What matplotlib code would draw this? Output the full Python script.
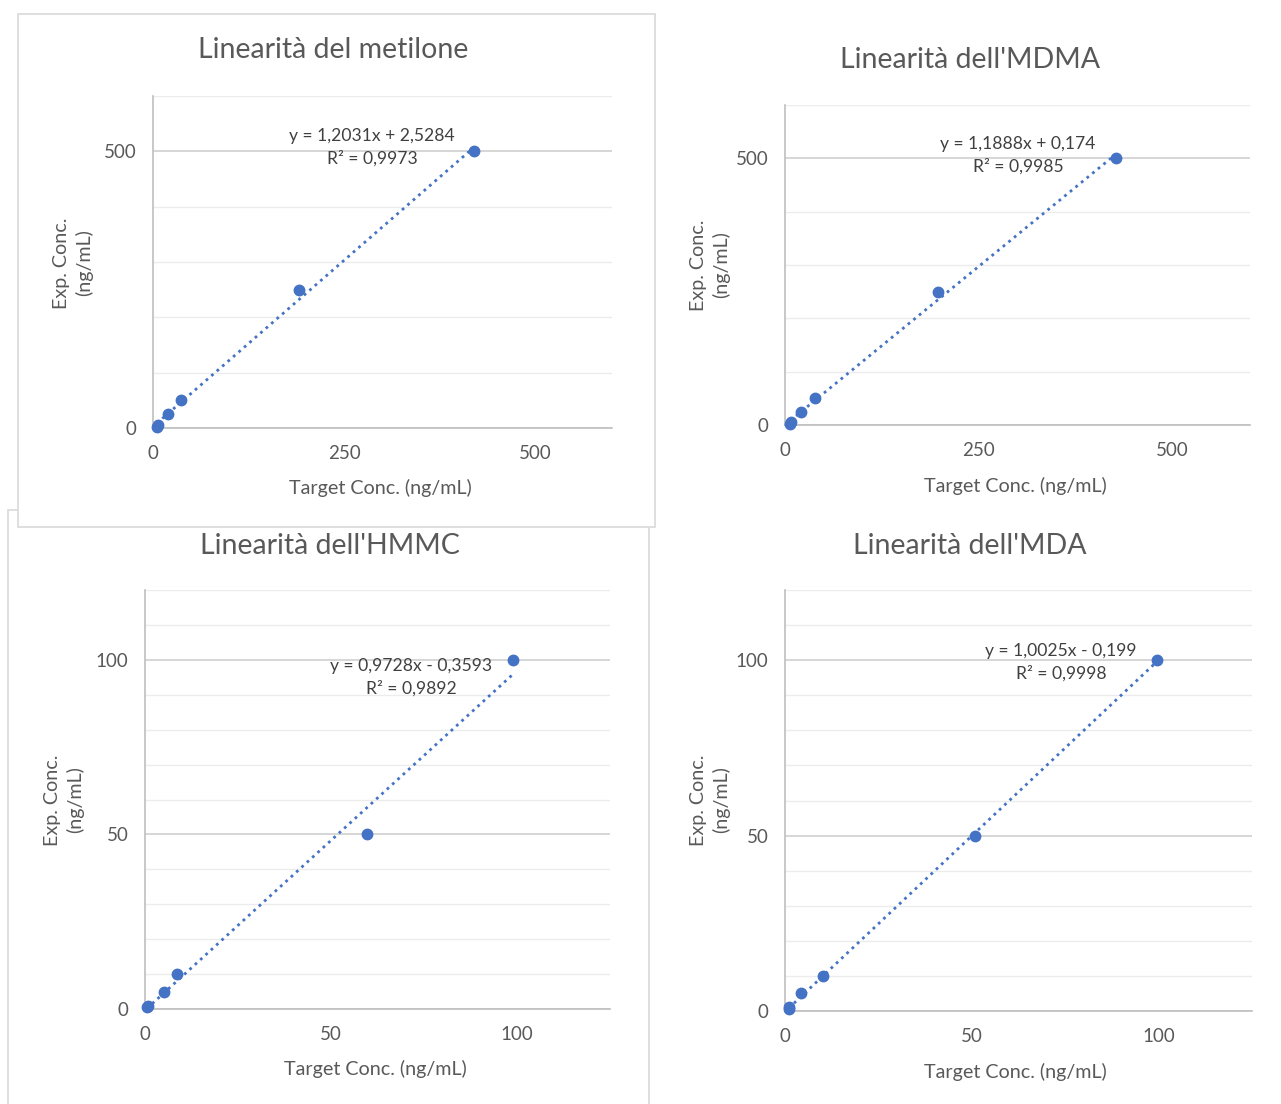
import matplotlib.pyplot as plt
from matplotlib.patches import Rectangle
from matplotlib.ticker import MultipleLocator

W, H = 1281, 1104

titles = ["Linearità del metilone", "Linearità dell'MDMA",
          "Linearità dell'HMMC", "Linearità dell'MDA"]

x_metilone = [5, 7, 20, 37, 191, 420]
y_metilone = [1, 5, 25, 50, 250, 500]
x_mdma = [7, 8, 21, 39, 198, 427]
y_mdma = [1, 5, 25, 50, 250, 500]
x_hmmc = [0.5, 0.8, 5.1, 8.6, 59.8, 98.9]
y_hmmc = [0.5, 1, 5, 10, 50, 100]
x_mda = [1.0, 1.2, 4.3, 10.2, 50.8, 99.7]
y_mda = [0.5, 1, 5, 10, 50, 100]

slopes = [1.2031, 1.1888, 0.9728, 1.0025]
intercepts = [2.5284, 0.174, -0.3593, -0.199]
equations = ["y = 1,2031x + 2,5284", "y = 1,1888x + 0,174",
             "y = 0,9728x - 0,3593", "y = 1,0025x - 0,199"]
r2_labels = ["R² = 0,9973", "R² = 0,9985", "R² = 0,9892", "R² = 0,9998"]

xs = [x_metilone, x_mdma, x_hmmc, x_mda]
ys = [y_metilone, y_mdma, y_hmmc, y_mda]

plt.rcParams['font.family'] = ['Lato', 'DejaVu Sans']
grey = '#595959'
dark = '#404040'
blue = '#4472C4'

fig = plt.figure(figsize=(W / 100, H / 100), dpi=100)


def fx(px):
    return px / W


def fy(py):
    return 1 - py / H


# panel frames (the metilone chart sits on top of the HMMC one)
fig.patches.append(Rectangle((fx(8), fy(1110)), fx(649) - fx(8), fy(510) - fy(1110),
                             transform=fig.transFigure, facecolor='white',
                             edgecolor='#d9d9d9', lw=1.2, zorder=0))
fig.patches.append(Rectangle((fx(18), fy(527)), fx(655) - fx(18), fy(14) - fy(527),
                             transform=fig.transFigure, facecolor='white',
                             edgecolor='#d9d9d9', lw=1.2, zorder=1))

# plot area boxes in pixels: left, top, right, bottom
boxes = [(153, 96, 612, 428), (785, 105, 1250, 425),
         (145, 590, 610, 1009), (785, 590, 1252, 1011)]
limits = [(600, 600), (600, 600), (125, 120), (125, 120)]
xmajor = [250, 250, 50, 50]
ymajor = [500, 500, 50, 50]
yminor = [100, 100, 10, 10]

title_pos = [(333, 50), (970, 60), (330, 546), (970, 546)]
xlabel_pos = [(380, 488), (1015, 486), (375, 1069), (1015, 1072)]
ylabel_pos = [(73, 263), (710, 265), (64, 800), (710, 800)]
eq_pos = [(372, 147), (1018, 155), (411, 677), (1061, 662)]

for i in range(4):
    l, t, r, b = boxes[i]
    ax = fig.add_axes([fx(l), fy(b), fx(r) - fx(l), fy(t) - fy(b)])
    ax.set_zorder(3)
    ax.patch.set_alpha(0)
    ax.set_xlim(0, limits[i][0])
    ax.set_ylim(0, limits[i][1])
    ax.xaxis.set_major_locator(MultipleLocator(xmajor[i]))
    ax.yaxis.set_major_locator(MultipleLocator(ymajor[i]))
    ax.yaxis.set_minor_locator(MultipleLocator(yminor[i]))
    ax.grid(axis='y', which='major', color='#d0d0d0', lw=1.2)
    ax.grid(axis='y', which='minor', color='#ececec', lw=1.0)
    ax.set_axisbelow(True)
    ax.tick_params(length=0, which='both', labelsize=13.5, colors=grey, pad=12)
    for s in ['top', 'right']:
        ax.spines[s].set_visible(False)
    for s in ['left', 'bottom']:
        ax.spines[s].set_color('#bfbfbf')
        ax.spines[s].set_linewidth(1.2)

    x0, x1 = min(xs[i]), max(xs[i])
    ax.plot([x0, x1], [slopes[i] * x0 + intercepts[i], slopes[i] * x1 + intercepts[i]],
            ls=(0, (1, 1.6)), color=blue, lw=2.0, zorder=2)
    ax.plot(xs[i], ys[i], 'o', color=blue, ms=7.5, zorder=3, clip_on=False)

    fig.text(fx(title_pos[i][0]), fy(title_pos[i][1]), titles[i], fontsize=20.5,
             color=grey, ha='center', va='center')
    fig.text(fx(xlabel_pos[i][0]), fy(xlabel_pos[i][1]), "Target Conc. (ng/mL)",
             fontsize=14.2, color=grey, ha='center', va='center')
    fig.text(fx(ylabel_pos[i][0]), fy(ylabel_pos[i][1]), "Exp. Conc.\n(ng/mL)",
             fontsize=14.2, color=grey, ha='center', va='center', rotation=90,
             linespacing=1.35)
    fig.text(fx(eq_pos[i][0]), fy(eq_pos[i][1]), equations[i] + "\n" + r2_labels[i],
             fontsize=12.6, color=dark, ha='center', va='center', linespacing=1.45,
             zorder=5)

fig.savefig('out.png', dpi=100)
